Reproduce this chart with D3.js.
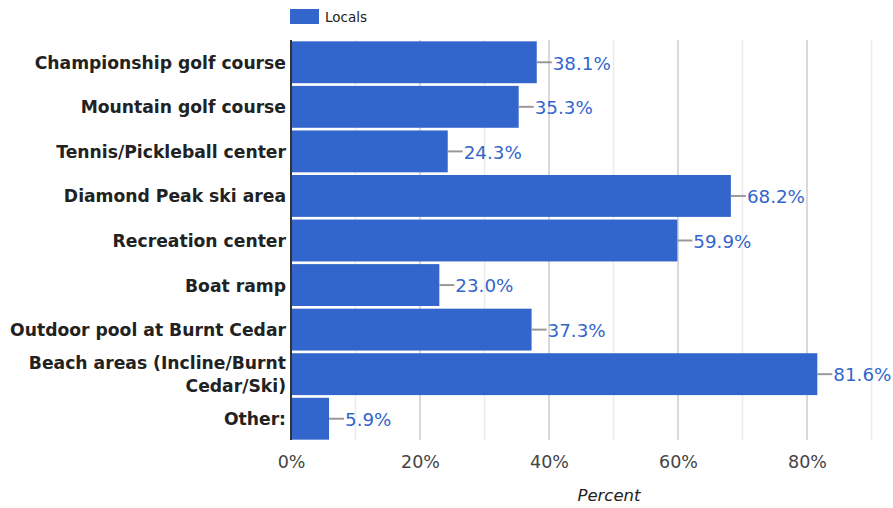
<!DOCTYPE html>
<html>
<head>
<meta charset="utf-8">
<script src="https://cdn.jsdelivr.net/npm/d3@7"></script>
<style>
  html, body { margin: 0; padding: 0; background: #fff; }
  svg { display: block; font-family: "DejaVu Sans", sans-serif; }
</style>
</head>
<body>
<svg id="chart" width="893" height="508"></svg>
<script>
const categories = [
  "Championship golf course",
  "Mountain golf course",
  "Tennis/Pickleball center",
  "Diamond Peak ski area",
  "Recreation center",
  "Boat ramp",
  "Outdoor pool at Burnt Cedar",
  "Beach areas (Incline/Burnt Cedar/Ski)",
  "Other:"
];
const categoryLines = [
  ["Championship golf course"],
  ["Mountain golf course"],
  ["Tennis/Pickleball center"],
  ["Diamond Peak ski area"],
  ["Recreation center"],
  ["Boat ramp"],
  ["Outdoor pool at Burnt Cedar"],
  ["Beach areas (Incline/Burnt", "Cedar/Ski)"],
  ["Other:"]
];
const localsValues = [38.1, 35.3, 24.3, 68.2, 59.9, 23.0, 37.3, 81.6, 5.9];
const seriesName = "Locals";
const majorTicks = [0, 20, 40, 60, 80];
const minorTicks = [10, 30, 50, 70, 90];
const xDomain = [0, 90];
const axisTitle = "Percent";

(function () {
const svg = d3.select("#chart");
const mLeft = 291, mRight = 871.5, mTop = 40, mBottom = 441;
const color = "#3366cc";

const x = d3.scaleLinear().domain(xDomain).range([mLeft, mRight]);
const y = d3.scaleBand().domain(categories).range([mTop, mBottom]).paddingInner(0.06).paddingOuter(0.03);

// gridlines
svg.append("g").selectAll("line").data(minorTicks).join("line")
  .attr("x1", d => x(d)).attr("x2", d => x(d))
  .attr("y1", mTop).attr("y2", mBottom - 1)
  .attr("stroke", "#ebebeb").attr("stroke-width", 1.5);
svg.append("g").selectAll("line").data(majorTicks.filter(d => d > 0)).join("line")
  .attr("x1", d => x(d)).attr("x2", d => x(d))
  .attr("y1", mTop).attr("y2", mBottom - 1)
  .attr("stroke", "#cccccc").attr("stroke-width", 1.5);

// bars
const rows = categories.map((c, i) => ({ c, v: localsValues[i], lines: categoryLines[i] }));
svg.append("g").selectAll("rect").data(rows).join("rect")
  .attr("x", x(0) + 1)
  .attr("y", d => y(d.c))
  .attr("width", d => x(d.v) - x(0) - 1)
  .attr("height", y.bandwidth())
  .attr("fill", color);

// leader lines + value labels
const lab = svg.append("g");
lab.selectAll("line").data(rows).join("line")
  .attr("x1", d => x(d.v)).attr("x2", d => x(d.v) + 15)
  .attr("y1", d => y(d.c) + y.bandwidth() / 2)
  .attr("y2", d => y(d.c) + y.bandwidth() / 2)
  .attr("stroke", "#999").attr("stroke-width", 2);
lab.selectAll("text").data(rows).join("text")
  .attr("x", d => x(d.v) + 16)
  .attr("y", d => y(d.c) + y.bandwidth() / 2)
  .attr("dy", "0.4em")
  .attr("fill", color)
  .attr("font-size", 18.3)
  .text(d => d.v.toFixed(1) + "%");

// axis line
svg.append("line")
  .attr("x1", x(0)).attr("x2", x(0))
  .attr("y1", mTop).attr("y2", mBottom - 1)
  .attr("stroke", "#333").attr("stroke-width", 2);

// category labels
const cat = svg.append("g").selectAll("text").data(rows).join("text")
  .attr("text-anchor", "end")
  .attr("font-weight", "bold")
  .attr("font-size", 17.2)
  .attr("fill", "#222");
cat.each(function(d) {
  const t = d3.select(this);
  const cy = y(d.c) + y.bandwidth() / 2;
  const n = d.lines.length;
  d.lines.forEach((ln, k) => {
    t.append("tspan")
      .attr("x", 286)
      .attr("y", cy + (k - (n - 1) / 2) * 22.5)
      .attr("dy", "0.38em")
      .text(ln);
  });
});

// x axis tick labels
const xAxis = d3.axisBottom(x).tickValues(majorTicks).tickFormat(d => d + "%").tickSize(0).tickPadding(0);
const ax = svg.append("g").attr("transform", `translate(0, 468)`).call(xAxis);
ax.select(".domain").remove();
ax.selectAll("text")
  .attr("dy", 0)
  .attr("y", 0)
  .attr("fill", "#444")
  .attr("font-size", 17.5)
  .attr("font-family", "DejaVu Sans, sans-serif");

// axis title
svg.append("text")
  .attr("x", 609).attr("y", 501)
  .attr("text-anchor", "middle")
  .attr("font-style", "italic")
  .attr("font-size", 16.5)
  .attr("fill", "#222")
  .text(axisTitle);

// legend
svg.append("rect").attr("x", 290).attr("y", 9).attr("width", 29).attr("height", 15).attr("fill", color);
svg.append("text").attr("x", 325).attr("y", 21.5)
  .attr("font-size", 13.5).attr("fill", "#222").text(seriesName);
})();
</script>
</body>
</html>
